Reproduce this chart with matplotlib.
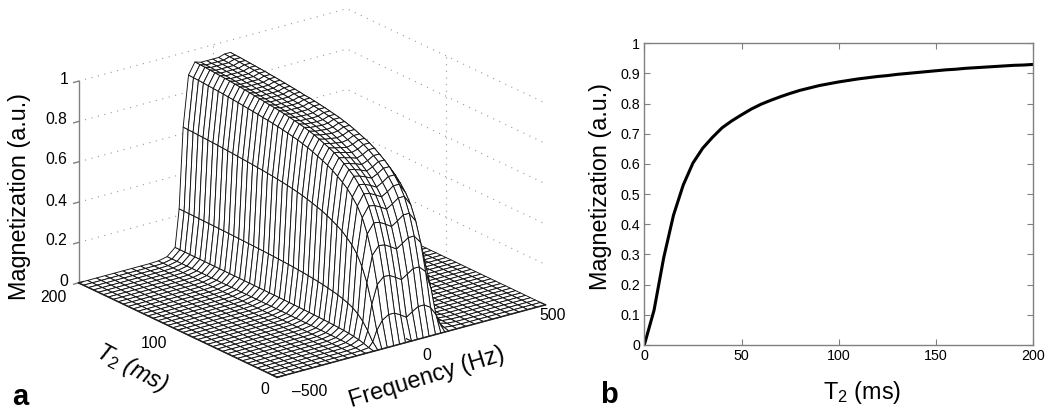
import matplotlib
matplotlib.use('Agg')
import matplotlib.pyplot as plt
import numpy as np

plt.rcParams['font.family'] = ['Liberation Sans', 'DejaVu Sans']
plt.rcParams['mathtext.fontset'] = 'custom'
plt.rcParams['mathtext.rm'] = 'Liberation Sans'
plt.rcParams['mathtext.it'] = 'Liberation Sans:italic'

W, H = 1050, 417
GRAY = '#808080'

# valores
t2_ms = [0, 5, 10, 15, 20, 25, 30, 35, 40, 45, 50, 55, 60, 65, 70, 75, 80, 85, 90, 95, 100,
         105, 110, 115, 120, 125, 130, 135, 140, 145, 150, 155, 160, 165, 170, 175, 180,
         185, 190, 195, 200]
magnetization = [0.0, 0.115, 0.29, 0.43, 0.53, 0.603, 0.652, 0.688, 0.72, 0.743, 0.763, 0.782,
                 0.798, 0.811, 0.823, 0.834, 0.844, 0.852, 0.86, 0.866, 0.872, 0.877, 0.882,
                 0.886, 0.89, 0.893, 0.897, 0.90, 0.903, 0.906, 0.909, 0.912, 0.914, 0.917,
                 0.919, 0.921, 0.923, 0.925, 0.927, 0.928, 0.93]
ripple_t2 = [0.0, 0.028, 0.028, 0.028, 0.028, 0.026, 0.025, 0.023, 0.02, 0.018, 0.016, 0.014,
             0.012, 0.01, 0.008, 0.007, 0.006, 0.005, 0.004, 0.003, 0.002, 0.002, 0.001,
             0.001, 0.001, 0.0, 0.0, 0.0, 0.0, 0.0, 0.0, 0.0, 0.0, 0.0, 0.0, 0.0, 0.0, 0.0,
             0.0, 0.0, 0.0]
freq_hz = [-500, -467, -434, -401, -368, -335, -302, -269, -236, -203, -170, -140, -125, -110,
           -90, -66, -44, -22, 0, 22, 44, 66, 90, 110, 125, 140, 170, 203, 236, 269, 302,
           335, 368, 401, 434, 467, 500]
profile = [0.0, 0.0, 0.0, 0.0, 0.0, 0.0, 0.0, 0.0, 0.0, 0.002, 0.012, 0.05, 0.25, 0.68,
           0.95, 1.01, 1.0, 1.0, 1.0, 1.0, 1.01, 1.01, 0.95, 0.68, 0.25, 0.05, 0.012, 0.002,
           0.0, 0.0, 0.0, 0.0, 0.0, 0.0, 0.0, 0.0, 0.0]
ripple_freq = [0.0, 0.0, 0.0, 0.0, 0.0, 0.0, 0.0, 0.0, 0.0, 0.0, 0.0, 0.0, 0.0, 0.1, 0.5, 1.0,
               1.0, 0.4, -0.3, 0.4, 1.0, 1.0, 0.5, 0.1, 0.0, 0.0, 0.0, 0.0, 0.0, 0.0, 0.0,
               0.0, 0.0, 0.0, 0.0, 0.0, 0.0]
z_ticks = [0, 0.2, 0.4, 0.6, 0.8, 1]
t2_ticks = [0, 100, 200]
freq_ticks = [-500, 0, 500]
b_xticks = [0, 50, 100, 150, 200]
b_yticks = [0, 0.1, 0.2, 0.3, 0.4, 0.5, 0.6, 0.7, 0.8, 0.9, 1]


def px_text(fig, x, y, s, **kw):
    # x, y en pixeles desde arriba a la izquierda
    kw.setdefault('ha', 'center')
    kw.setdefault('va', 'center')
    return fig.text(x / W, 1 - y / H, s, **kw)


fig = plt.figure(figsize=(W / 100, H / 100), dpi=100)

# panel a
side = 503
ax = fig.add_axes([53.7 / W, -34.3 / H, side / W, side / H], projection='3d',
                  computed_zorder=False)
ax.set_proj_type('ortho')
ax.view_init(elev=21, azim=-127)
ax.set_box_aspect((336, 330, 216))
ax.set_xlim(-500, 500)
ax.set_ylim(0, 200)
ax.set_zlim(0, 1)
ax.set_axis_off()

# rejilla punteada de las paredes
for z in z_ticks[1:]:
    ax.plot([-500, 500, 500], [200, 200, 0], [z, z, z], ls=(0, (1, 5)), color='#999999',
            lw=0.8, zorder=1)
ax.plot([500, 500], [100, 100], [0, 1], ls=(0, (1, 5)), color='#999999', lw=0.8, zorder=1)
ax.plot([0, 0], [200, 200], [0, 1], ls=(0, (1, 5)), color='#999999', lw=0.8, zorder=1)

F, T = np.meshgrid(freq_hz, t2_ms)
Z = np.outer(magnetization, profile) + np.outer(ripple_t2, ripple_freq)
ax.plot_surface(F, T, Z, rstride=1, cstride=1, color='white', edgecolor='#111111',
                linewidth=0.65, shade=False, antialiased=True, zorder=2)

# ejes y marcas
ax.plot([-500, -500], [200, 200], [0, 1], color=GRAY, lw=1, zorder=3)
for z in z_ticks:
    ax.plot([-500, -518], [200, 200], [z, z], color=GRAY, lw=1, zorder=3)
ax.plot([-500, -500], [0, 200], [0, 0], color='#222222', lw=1.1, zorder=3)
ax.plot([-500, 500], [0, 0], [0, 0], color='#222222', lw=1.1, zorder=3)
for t in t2_ticks:
    ax.plot([-500, -482], [t, t], [0, 0], color='#222222', lw=0.9, zorder=3)
for f in freq_ticks:
    ax.plot([f, f], [0, 5], [0, 0], color='#222222', lw=0.9, zorder=3)

tick_fs = 11.3
for z, x, y in zip(z_ticks, [64, 56, 56, 56, 56, 64], [281, 241, 202, 160, 120, 80]):
    px_text(fig, x, y, f'{z:g}', fontsize=tick_fs)
for t, x, y in zip(t2_ticks, [265, 154, 53], [389, 343, 297]):
    px_text(fig, x, y, str(t), fontsize=tick_fs)
for f, x, y in zip(freq_ticks, [310, 427, 553], [392, 356, 316]):
    px_text(fig, x, y, str(f).replace('-', '\u2013'), fontsize=tick_fs)

px_text(fig, 20, 196, 'Magnetization (a.u.)', fontsize=16.8, rotation=90)
px_text(fig, 427, 377, 'Frequency (Hz)', fontsize=16.8, rotation=17, rotation_mode='anchor')
px_text(fig, 132, 368, r'$T_2$ (ms)', fontsize=16.8, rotation=-28, style='italic',
        rotation_mode='anchor')
px_text(fig, 20, 397, 'a', fontsize=21, fontweight='bold')

# panel b
bx = fig.add_axes([644.3 / W, 1 - 345 / H, 389 / W, 301.7 / H])
bx.plot(t2_ms, magnetization, color='black', lw=2.2)
bx.set_xlim(0, 200)
bx.set_ylim(0, 1)
bx.set_xticks(b_xticks)
bx.set_yticks(b_yticks)
bx.set_yticklabels([f'{v:g}' for v in b_yticks])
bx.tick_params(direction='in', top=True, right=True, length=4, width=0.8, color=GRAY,
               labelsize=10.3, pad=3)
for s in bx.spines.values():
    s.set_color(GRAY)
    s.set_linewidth(1)
px_text(fig, 601, 187, 'Magnetization (a.u.)', fontsize=16.8, rotation=90)
px_text(fig, 862, 392, r'T$_2$ (ms)', fontsize=16.8)
px_text(fig, 609, 395, 'b', fontsize=21, fontweight='bold')

fig.savefig('out.png', dpi=100)
